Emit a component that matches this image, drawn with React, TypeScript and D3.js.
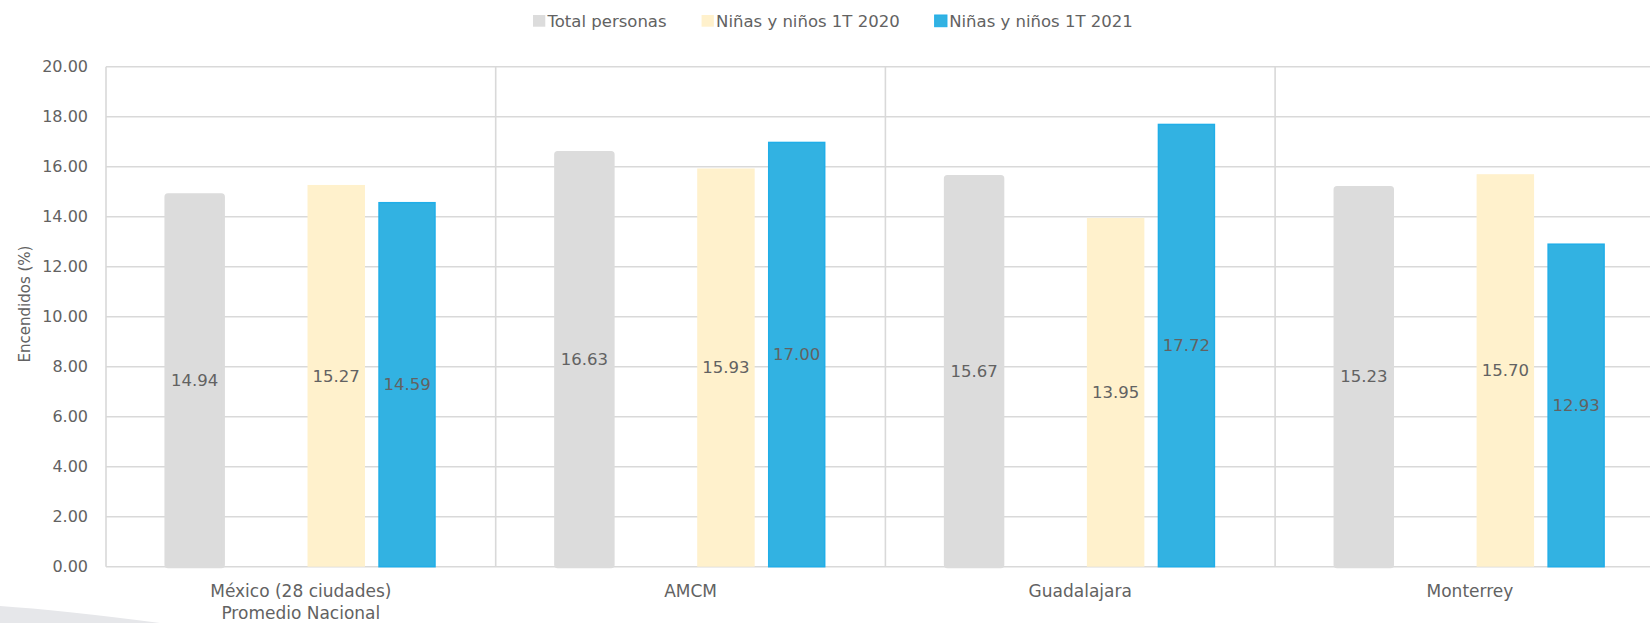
import { useEffect, useRef } from 'react';
import * as d3 from 'd3';

const categories = ["México (28 ciudades)|Promedio Nacional", "AMCM", "Guadalajara", "Monterrey"];
const totalPersonas = [14.94, 16.63, 15.67, 15.23];
const ninos2020 = [15.27, 15.93, 13.95, 15.70];
const ninos2021 = [14.59, 17.00, 17.72, 12.93];
const yTicks = [0, 2, 4, 6, 8, 10, 12, 14, 16, 18, 20];

const SERIES = [
  { key: "total", name: "Total personas", values: totalPersonas, fill: "#dcdcdc", stroke: "#dcdcdc", sw: 3, rx: 2 },
  { key: "n2020", name: "Niñas y niños 1T 2020", values: ninos2020, fill: "#fff1cc", stroke: "none", sw: 0, rx: 0 },
  { key: "n2021", name: "Niñas y niños 1T 2021", values: ninos2021, fill: "#32b2e2", stroke: "#20aee8", sw: 1.5, rx: 0 },
];
// slot order inside each category; one empty slot sits between gray and the pair
const SLOTS = ["total", "empty", "n2020", "n2021"];

const FONT = "'DejaVu Sans', sans-serif";
const TEXT = "#626262";
const GRID = "#d9d9d9";

export default function App() {
  const svgRef = useRef<SVGSVGElement>(null);

  useEffect(() => {
    document.body.style.margin = "0";
    if (!svgRef.current) return;
    const width = 1650;
    const height = 623;
    const svg = d3.select(svgRef.current);
    svg.selectAll("*").remove();
    svg.attr("width", width).attr("height", height);

    const margin = { top: 66.7, left: 106, bottom: 566.7 };
    const catWidth = 389.7;

    // background swoosh at lower left
    svg.append("path")
      .attr("d", "M0,606 Q60,610 160,623 L0,623 Z")
      .attr("fill", "#e6e7ea");

    const x = d3.scaleBand<string>()
      .domain(categories)
      .range([margin.left, margin.left + catWidth * categories.length])
      .padding(0);
    const inner = d3.scaleBand<string>()
      .domain(SLOTS)
      .range([0, x.bandwidth()])
      .paddingInner(0.188)
      .paddingOuter(0.847);
    const y = d3.scaleLinear().domain([0, 20]).range([margin.bottom, margin.top]);

    const g = svg.append("g");

    // horizontal grid
    g.selectAll(".grid")
      .data(yTicks)
      .enter()
      .append("line")
      .attr("x1", margin.left)
      .attr("x2", x.range()[1])
      .attr("y1", d => y(d))
      .attr("y2", d => y(d))
      .attr("stroke", GRID)
      .attr("stroke-width", 1.6);

    // vertical separators (left axis + category boundaries)
    g.selectAll(".sep")
      .data(categories)
      .enter()
      .append("line")
      .attr("x1", d => x(d) as number)
      .attr("x2", d => x(d) as number)
      .attr("y1", y(20))
      .attr("y2", y(0))
      .attr("stroke", GRID)
      .attr("stroke-width", 1.6);

    // y tick labels
    g.selectAll(".ytick")
      .data(yTicks)
      .enter()
      .append("text")
      .attr("x", 88)
      .attr("y", d => y(d))
      .attr("dy", "0.35em")
      .attr("text-anchor", "end")
      .attr("fill", TEXT)
      .style("font-family", FONT)
      .style("font-size", "16px")
      .text(d => d3.format(".2f")(d));

    // y title
    g.append("text")
      .attr("transform", `translate(25,304) rotate(-90)`)
      .attr("dy", "0.35em")
      .attr("text-anchor", "middle")
      .attr("fill", TEXT)
      .style("font-family", FONT)
      .style("font-size", "15px")
      .text("Encendidos (%)");

    // bars
    SERIES.forEach(s => {
      g.selectAll(`.bar-${s.key}`)
        .data(categories.map((c, i) => ({ c, v: s.values[i] })))
        .enter()
        .append("rect")
        .attr("x", d => (x(d.c) as number) + (inner(s.key) as number) + s.sw / 2 - (s.key === "total" ? 1.5 : 0))
        .attr("width", inner.bandwidth() - s.sw + (s.key === "total" ? 3 : 0))
        .attr("y", d => y(d.v) + s.sw / 2)
        .attr("height", d => y(0) - y(d.v) - s.sw / 2)
        .attr("rx", s.rx)
        .attr("fill", s.fill)
        .attr("stroke", s.stroke)
        .attr("stroke-width", s.sw);
    });

    // value labels centred in bars
    SERIES.forEach(s => {
      g.selectAll(`.lbl-${s.key}`)
        .data(categories.map((c, i) => ({ c, v: s.values[i] })))
        .enter()
        .append("text")
        .attr("x", d => (x(d.c) as number) + (inner(s.key) as number) + inner.bandwidth() / 2)
        .attr("y", d => (y(d.v) + y(0)) / 2)
        .attr("dy", "0.35em")
        .attr("text-anchor", "middle")
        .attr("fill", TEXT)
        .style("font-family", FONT)
        .style("font-size", "16.5px")
        .text(d => d.v.toFixed(2));
    });

    // x category labels
    categories.forEach(c => {
      const lines = c.split("|");
      const t = g.append("text")
        .attr("text-anchor", "middle")
        .attr("fill", TEXT)
        .style("font-family", FONT)
        .style("font-size", "17px");
      lines.forEach((ln, i) => {
        t.append("tspan")
          .attr("x", (x(c) as number) + x.bandwidth() / 2)
          .attr("y", 591 + i * 22.5)
          .attr("dy", "0.35em")
          .text(ln);
      });
    });

    // legend
    const legend = svg.append("g");
    let lx = 533;
    SERIES.forEach(s => {
      legend.append("rect")
        .attr("x", lx)
        .attr("y", 15)
        .attr("width", 12.3)
        .attr("height", 11.7)
        .attr("fill", s.fill)
        .attr("stroke", s.key === "n2021" ? s.stroke : "none");
      const t = legend.append("text")
        .attr("x", lx + 14.5)
        .attr("y", 26.7)
        .attr("fill", TEXT)
        .style("font-family", FONT)
        .style("font-size", "16.5px")
        .text(s.name);
      const w = (t.node() as SVGTextElement).getComputedTextLength();
      lx += 14.5 + w + 35;
    });
  }, []);

  return <svg ref={svgRef} style={{ display: "block", background: "#fff" }} />;
}
